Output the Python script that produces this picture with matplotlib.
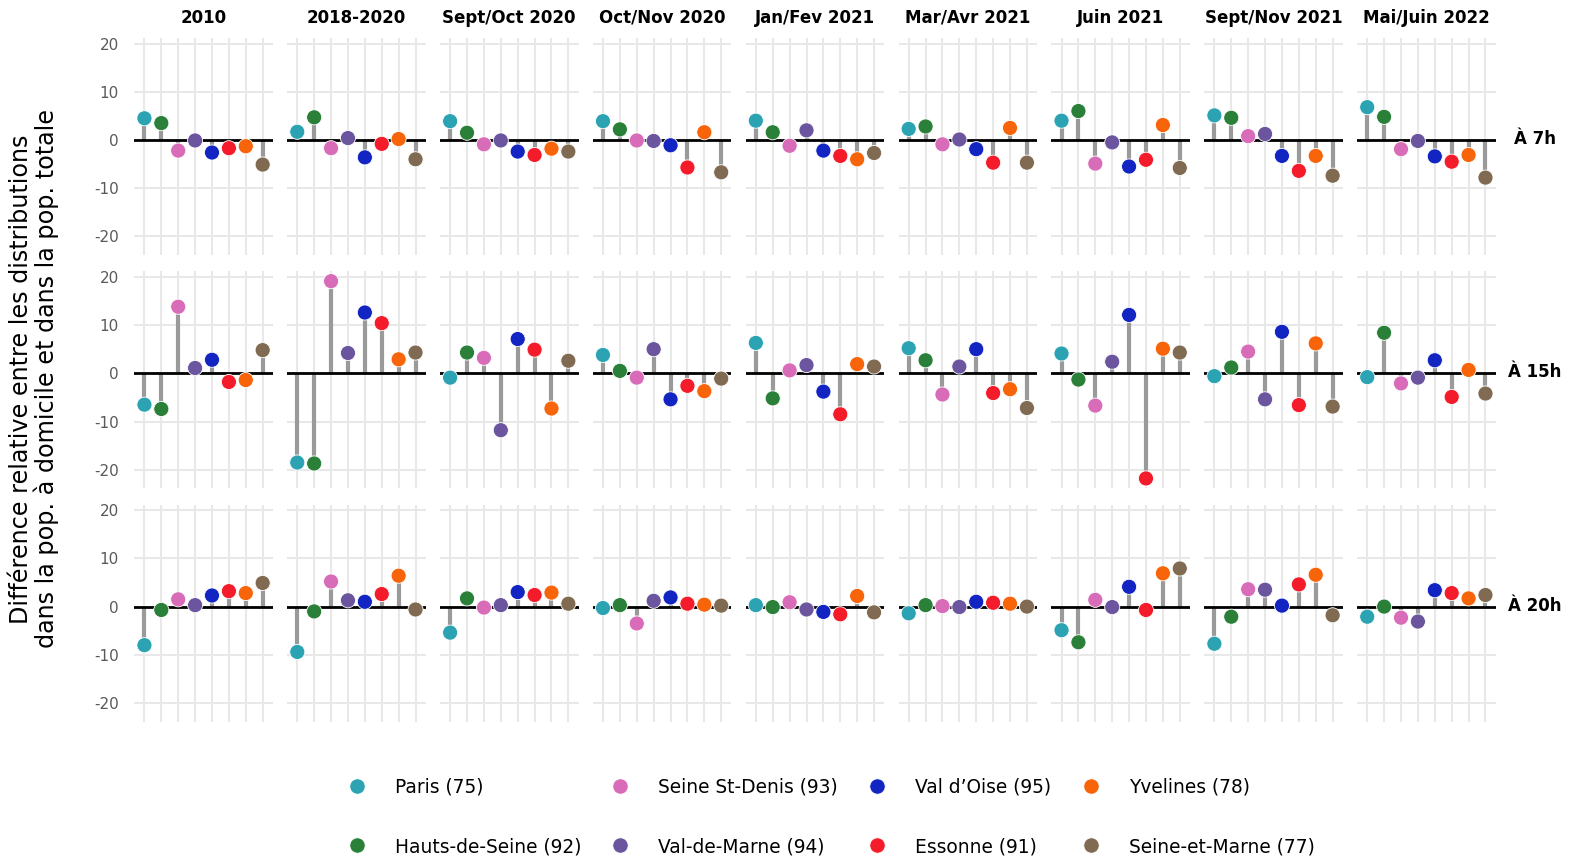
import numpy as np
import matplotlib
matplotlib.use("Agg")
import matplotlib.pyplot as plt
from matplotlib.lines import Line2D

plt.rcParams["axes.unicode_minus"] = False

# ---------------- data ----------------
departements = ["Paris (75)", "Hauts-de-Seine (92)", "Seine St-Denis (93)", "Val-de-Marne (94)",
                "Val d’Oise (95)", "Essonne (91)", "Yvelines (78)", "Seine-et-Marne (77)"]
couleurs = ["#2BA3B3", "#2A8038", "#D86CB8", "#6A559E", "#1224C2", "#F41C2A", "#F7640A", "#806B52"]
periodes = ["2010", "2018-2020", "Sept/Oct 2020", "Oct/Nov 2020", "Jan/Fev 2021",
            "Mar/Avr 2021", "Juin 2021", "Sept/Nov 2021", "Mai/Juin 2022"]
heures = ["À 7h", "À 15h", "À 20h"]

# values per period, departments in the order above
val_7h = [
    [4.5, 3.5, -2.2, -0.1, -2.6, -1.7, -1.3, -5.1],
    [1.7, 4.7, -1.7, 0.4, -3.6, -0.8, 0.2, -4.0],
    [3.9, 1.5, -0.9, -0.1, -2.4, -3.1, -1.8, -2.4],
    [3.9, 2.2, -0.1, -0.2, -1.1, -5.7, 1.6, -6.7],
    [4.0, 1.6, -1.2, 2.0, -2.2, -3.3, -4.0, -2.7],
    [2.3, 2.8, -0.9, 0.1, -1.9, -4.7, 2.5, -4.7],
    [4.0, 6.0, -4.9, -0.5, -5.5, -4.1, 3.1, -5.8],
    [5.1, 4.6, 0.8, 1.25, -3.3, -6.4, -3.3, -7.4],
    [6.8, 4.8, -1.9, -0.2, -3.4, -4.5, -3.1, -7.8],
]
val_15h = [
    [-6.5, -7.4, 13.8, 1.1, 2.8, -1.8, -1.4, 4.8],
    [-18.5, -18.7, 19.1, 4.2, 12.6, 10.4, 2.9, 4.3],
    [-0.9, 4.3, 3.2, -11.8, 7.1, 4.9, -7.3, 2.6],
    [3.8, 0.5, -0.9, 5.0, -5.4, -2.6, -3.7, -1.1],
    [6.3, -5.2, 0.6, 1.7, -3.8, -8.5, 1.9, 1.4],
    [5.2, 2.7, -4.4, 1.4, 5.0, -4.1, -3.3, -7.2],
    [4.1, -1.3, -6.7, 2.4, 12.1, -21.8, 5.1, 4.3],
    [-0.6, 1.2, 4.5, -5.4, 8.6, -6.6, 6.2, -6.9],
    [-0.8, 8.4, -2.1, -0.9, 2.7, -4.9, 0.7, -4.2],
]
val_20h = [
    [-8.0, -0.7, 1.5, 0.3, 2.3, 3.2, 2.8, 4.9],
    [-9.4, -1.0, 5.2, 1.3, 1.0, 2.6, 6.4, -0.6],
    [-5.4, 1.7, -0.2, 0.3, 3.0, 2.4, 2.9, 0.6],
    [-0.3, 0.3, -3.5, 1.2, 1.9, 0.6, 0.4, 0.2],
    [0.3, -0.1, 0.9, -0.6, -1.1, -1.6, 2.2, -1.2],
    [-1.4, 0.3, 0.1, -0.1, 1.0, 0.8, 0.6, 0.0],
    [-4.9, -7.4, 1.4, -0.1, 4.1, -0.7, 6.9, 7.9],
    [-7.7, -2.1, 3.6, 3.5, 0.2, 4.6, 6.6, -1.8],
    [-2.1, 0.0, -2.3, -3.1, 3.4, 2.8, 1.7, 2.4],
]
y_ticks = [-20, -10, 0, 10, 20]

# ---------------- figure ----------------
W, H = 1571, 859
fig = plt.figure(figsize=(W / 100, H / 100), dpi=100)
fig.patch.set_facecolor("white")

all_rows = [val_7h, val_15h, val_20h]
allv = np.array(all_rows).ravel()
lo, hi = allv.min(), allv.max()
pad = 0.05 * (hi - lo)
ylim = (lo - pad, hi + pad)

x0, dx, pw = 134.3, 152.85, 138.5
y0, dy, ph = 38.0, 233.3, 217.0
grid_c = "#E8E8E8"

xs = np.arange(len(departements))
for i, (hlab, rows) in enumerate(zip(heures, all_rows)):
    top = y0 + i * dy
    for j, per in enumerate(periodes):
        left = x0 + j * dx
        ax = fig.add_axes([left / W, 1 - (top + ph) / H, pw / W, ph / H])
        vals = np.array(rows[j])
        ax.set_xlim(-0.6, len(departements) - 0.4)
        ax.set_ylim(*ylim)
        for s in ax.spines.values():
            s.set_visible(False)
        ax.set_xticks(xs)
        ax.set_yticks(y_ticks)
        ax.grid(True, color=grid_c, linewidth=1.5, zorder=0)
        ax.set_axisbelow(True)
        ax.tick_params(length=0, labelbottom=False, labelleft=(j == 0),
                       labelsize=11, labelcolor="#5A5A5A", pad=11)
        ax.vlines(xs, 0, vals, color="#9A9A9A", linewidth=3.0, zorder=2)
        ax.axhline(0, color="black", linewidth=2.0, zorder=3)
        ax.scatter(xs, vals, s=118, c=couleurs, edgecolors="white",
                   linewidths=0.6, zorder=4)
        if i == 0:
            fig.text((left + pw / 2) / W, 1 - 18 / H, per, ha="center", va="center",
                     fontsize=12, fontweight="bold")
    fig.text(1535 / W, 1 - (top + 101) / H, hlab, ha="center", va="center",
             fontsize=12, fontweight="bold")

fig.text(34 / W, 1 - 379 / H,
         "Différence relative entre les distributions\ndans la pop. à domicile et dans la pop. totale",
         rotation=90, ha="center", va="center", fontsize=17.2, multialignment="center",
         linespacing=1.05)

handles = [Line2D([0], [0], marker="o", linestyle="none", markersize=11,
                  markerfacecolor=c, markeredgecolor="white", markeredgewidth=0.5)
           for c in couleurs]
fig.legend(handles, departements, ncol=4, loc="center",
           bbox_to_anchor=(831 / W, 1 - 817 / H), frameon=False, fontsize=13.4,
           handlelength=1.0, handletextpad=1.55, columnspacing=1.6, labelspacing=2.15)

fig.savefig("out.png", dpi=100, facecolor="white")
